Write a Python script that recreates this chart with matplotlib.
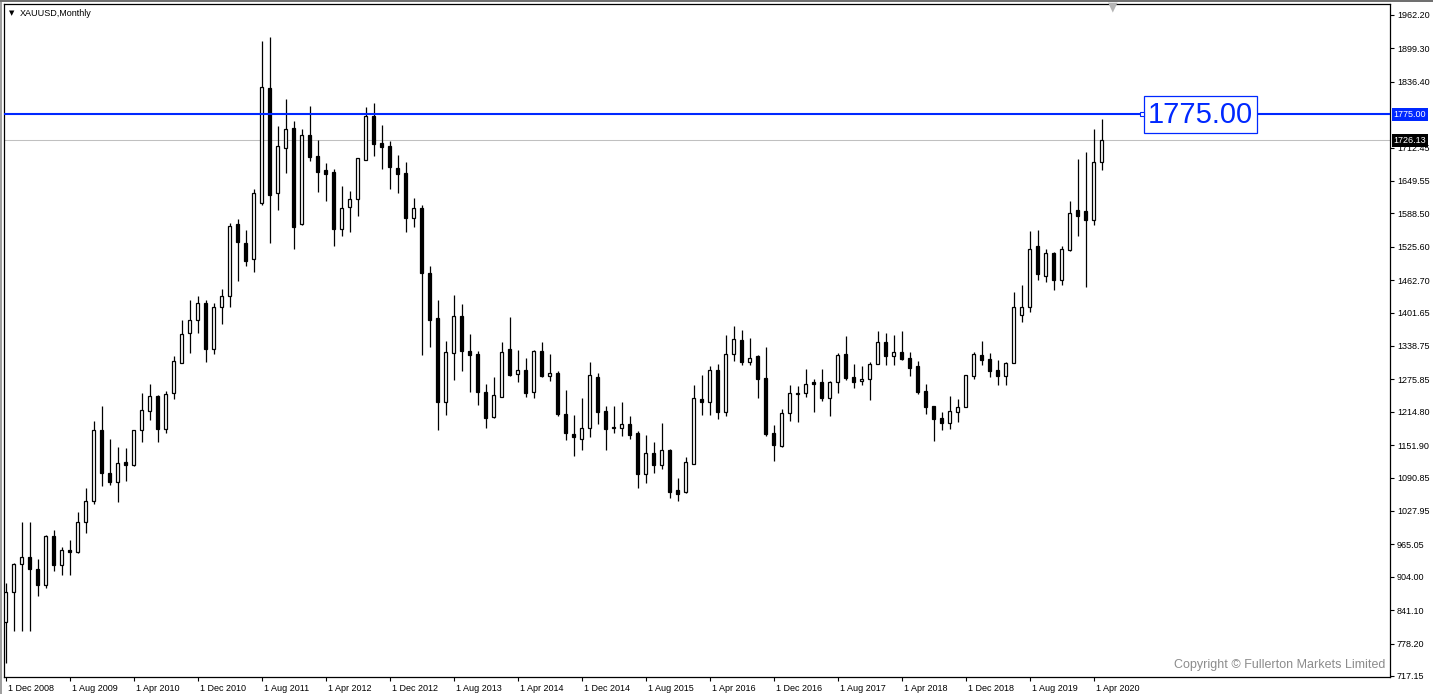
import matplotlib
matplotlib.use("Agg")
import matplotlib.pyplot as plt
from matplotlib.patches import Rectangle
import matplotlib.transforms as mtransforms

# monthly XAUUSD candles, Dec 2008 .. May 2020
opens = [819, 876, 929, 941, 919, 889, 980, 927, 955, 951, 1008, 1046, 1181,
         1099, 1082, 1120, 1114, 1181, 1217, 1245, 1182, 1250, 1307, 1364, 1387,
         1419, 1334, 1412, 1433, 1568, 1532, 1502, 1608, 1824, 1626, 1711, 1749,
         1568, 1737, 1696, 1670, 1666, 1560, 1600, 1615, 1690, 1772, 1721, 1716,
         1674, 1665, 1579, 1598, 1476, 1391, 1234, 1325, 1395, 1330, 1323, 1252,
         1205, 1243, 1333, 1286, 1293, 1252, 1329, 1283, 1288, 1211, 1173, 1163,
         1185, 1281, 1216, 1184, 1185, 1192, 1175, 1097, 1137, 1115, 1142, 1067,
         1063, 1117, 1239, 1233, 1293, 1215, 1323, 1350, 1309, 1320, 1278, 1175,
         1150, 1212, 1249, 1250, 1271, 1271, 1241, 1270, 1323, 1280, 1272, 1276,
         1305, 1346, 1319, 1327, 1316, 1301, 1254, 1226, 1203, 1193, 1215, 1223,
         1282, 1322, 1315, 1293, 1283, 1306, 1398, 1413, 1527, 1471, 1513, 1463,
         1520, 1595, 1593, 1577, 1686]
highs = [892, 930, 1007, 1007, 937, 982, 992, 960, 973, 1026, 1072, 1198, 1226,
         1164, 1148, 1146, 1181, 1251, 1267, 1247, 1254, 1319, 1387, 1425, 1433,
         1425, 1419, 1447, 1570, 1578, 1557, 1634, 1913, 1921, 1753, 1804, 1763,
         1747, 1791, 1727, 1683, 1672, 1640, 1631, 1692, 1788, 1796, 1755, 1725,
         1698, 1685, 1617, 1604, 1489, 1425, 1348, 1435, 1418, 1362, 1330, 1268,
         1280, 1346, 1393, 1332, 1316, 1331, 1346, 1323, 1291, 1256, 1209, 1240,
         1308, 1287, 1226, 1226, 1233, 1206, 1178, 1171, 1157, 1193, 1145, 1090,
         1129, 1265, 1284, 1301, 1305, 1359, 1376, 1369, 1353, 1322, 1337, 1190,
         1221, 1265, 1263, 1296, 1276, 1296, 1273, 1326, 1358, 1305, 1301, 1308,
         1367, 1363, 1359, 1367, 1327, 1310, 1267, 1226, 1214, 1245, 1238, 1284,
         1327, 1348, 1325, 1312, 1308, 1440, 1454, 1555, 1557, 1521, 1516, 1527,
         1612, 1691, 1705, 1747, 1766]
lows = [741, 802, 802, 802, 867, 883, 914, 907, 907, 948, 987, 1042, 1075,
        1076, 1045, 1084, 1112, 1158, 1200, 1157, 1175, 1238, 1306, 1326, 1363,
        1309, 1324, 1380, 1413, 1462, 1489, 1479, 1605, 1533, 1595, 1665, 1521,
        1567, 1688, 1628, 1612, 1528, 1545, 1554, 1584, 1689, 1697, 1673, 1635,
        1626, 1554, 1562, 1322, 1337, 1180, 1209, 1274, 1292, 1253, 1228, 1184,
        1204, 1242, 1282, 1270, 1243, 1241, 1281, 1272, 1207, 1162, 1132, 1143,
        1168, 1191, 1143, 1175, 1170, 1164, 1071, 1081, 1100, 1107, 1053, 1047,
        1061, 1116, 1209, 1209, 1202, 1206, 1311, 1303, 1303, 1241, 1170, 1123,
        1148, 1198, 1196, 1243, 1215, 1236, 1206, 1251, 1275, 1260, 1265, 1237,
        1305, 1303, 1303, 1312, 1283, 1248, 1211, 1160, 1180, 1182, 1196, 1223,
        1277, 1303, 1281, 1265, 1265, 1306, 1383, 1402, 1463, 1459, 1444, 1454,
        1517, 1546, 1450, 1567, 1670]
closes = [876, 929, 941, 919, 889, 980, 927, 955, 951, 1008, 1046, 1181, 1099,
          1082, 1118, 1114, 1181, 1218, 1245, 1182, 1248, 1310, 1361, 1387, 1419,
          1334, 1412, 1432, 1564, 1535, 1499, 1626, 1826, 1624, 1715, 1747, 1563,
          1737, 1695, 1667, 1663, 1560, 1598, 1615, 1692, 1772, 1720, 1714, 1675,
          1663, 1579, 1598, 1477, 1388, 1234, 1327, 1395, 1330, 1322, 1252, 1204,
          1246, 1327, 1285, 1293, 1250, 1329, 1283, 1288, 1211, 1175, 1168, 1185,
          1285, 1214, 1183, 1186, 1192, 1172, 1097, 1137, 1115, 1142, 1064, 1060,
          1120, 1240, 1233, 1293, 1215, 1323, 1351, 1309, 1317, 1276, 1173, 1153,
          1212, 1250, 1251, 1268, 1268, 1241, 1271, 1321, 1279, 1271, 1276, 1305,
          1346, 1319, 1327, 1315, 1298, 1253, 1224, 1202, 1193, 1216, 1224, 1284,
          1323, 1312, 1292, 1283, 1306, 1412, 1413, 1521, 1474, 1513, 1463, 1521,
          1589, 1584, 1577, 1686, 1726.13]

date_labels = ["1 Dec 2008", "1 Aug 2009", "1 Apr 2010", "1 Dec 2010", "1 Aug 2011",
               "1 Apr 2012", "1 Dec 2012", "1 Aug 2013", "1 Apr 2014", "1 Dec 2014",
               "1 Aug 2015", "1 Apr 2016", "1 Dec 2016", "1 Aug 2017", "1 Apr 2018",
               "1 Dec 2018", "1 Aug 2019", "1 Apr 2020"]
price_ticks = [1962.20, 1899.30, 1836.40, 1712.45, 1649.55, 1588.50, 1525.60,
               1462.70, 1401.65, 1338.75, 1275.85, 1214.80, 1151.90, 1090.85,
               1027.95, 965.05, 904.00, 841.10, 778.20, 717.15]
level = 1775.00
last_price = 1726.13

W, H = 1433, 694
plt.rcParams['font.family'] = ['Liberation Sans', 'DejaVu Sans']
fig = plt.figure(figsize=(W / 100, H / 100), dpi=100)
fig.patch.set_facecolor('white')

ax = fig.add_axes([4 / W, 1 - 677 / H, 1386 / W, 673 / H])
xmin = -0.1875
ax.set_xlim(xmin, xmin + 1386 / 8)
ppu = 1.8836  # price per pixel
ax.set_ylim(1962.2 - 662 * ppu, 1962.2 + 11 * ppu)

n = len(opens)
xs = list(range(n))
ax.vlines(xs, lows, highs, color='black', linewidth=0.9, zorder=2)
for i in xs:
    o, c = opens[i], closes[i]
    bottom = min(o, c)
    height = max(abs(c - o), 0.5)
    fc = 'white' if c >= o else 'black'
    ax.bar(i, height, bottom=bottom, width=0.45, facecolor=fc,
           edgecolor='black', linewidth=0.9, zorder=3)

blue = '#0028ff'
ax.axhline(last_price, color='#c0c0c0', linewidth=0.75, zorder=1)
ax.axhline(level, color=blue, linewidth=1.5, zorder=4)

# big price label on the line
px2x = lambda p: xmin + (p - 4) / 8
py2y = lambda p: 1962.2 - (p - 15) * ppu
ax.add_patch(Rectangle((px2x(1144), py2y(133)), px2x(1257) - px2x(1144),
                       py2y(96) - py2y(133), facecolor='white', edgecolor=blue,
                       linewidth=0.9, zorder=5))
ax.text((px2x(1144) + px2x(1257)) / 2, py2y(115), "1775.00", color=blue,
        fontsize=21, ha='center', va='center', zorder=6)
ax.plot([px2x(1142)], [level], marker='s', markersize=2.5, mfc='white',
        mec=blue, mew=0.8, zorder=6)

ax.set_xticks([8 * k for k in range(len(date_labels))])
ax.set_xticklabels(date_labels, ha='left', fontsize=6.5)
ax.set_yticks(price_ticks)
ax.set_yticklabels(["%.2f" % v for v in price_ticks], fontsize=6.5)
ax.yaxis.tick_right()
ax.tick_params(axis='y', length=3, width=0.8, pad=2, colors='black')
ax.tick_params(axis='x', length=3, width=0.8, pad=2)
for lab in ax.get_xticklabels():
    lab.set_transform(lab.get_transform() + mtransforms.ScaledTranslation(2 / 100, 0, fig.dpi_scale_trans))
for s in ax.spines.values():
    s.set_color('black')
    s.set_linewidth(0.9)

trans = mtransforms.blended_transform_factory(ax.transAxes, ax.transData)
ax.text(1.0025, level, "1775.00", transform=trans, fontsize=6.5, color='white',
        va='center', ha='left', zorder=10, clip_on=False,
        bbox=dict(boxstyle='square,pad=0.2', facecolor=blue, edgecolor='none'))
ax.text(1.0025, last_price, "1726.13", transform=trans, fontsize=6.5, color='white',
        va='center', ha='left', zorder=10, clip_on=False,
        bbox=dict(boxstyle='square,pad=0.2', facecolor='black', edgecolor='none'))

fig.text(20 / W, 1 - 13 / H, "XAUUSD,Monthly", fontsize=6.5, va='center', ha='left')
fig.text(9 / W, 1 - 13 / H, "\u25bc", fontsize=5, va='center', ha='left',
         family='DejaVu Sans')
fig.text(1113 / W, 1 - 7 / H, "\u25bc", fontsize=9, va='center', ha='center',
         color='#b4b4b4', family='DejaVu Sans')
fig.text(1385 / W, 1 - 665 / H, "Copyright \u00a9 Fullerton Markets Limited",
         fontsize=9, color='#8c8c8c', ha='right', va='center')

# window border
fig.add_artist(Rectangle((0, 0), 2 / W, 1, transform=fig.transFigure,
                         facecolor='#a0a0a0', edgecolor='none'))
fig.add_artist(Rectangle((0, 1 - 2 / H), 1, 2 / H, transform=fig.transFigure,
                         facecolor='#707070', edgecolor='none'))

fig.savefig("out.png", dpi=100)
